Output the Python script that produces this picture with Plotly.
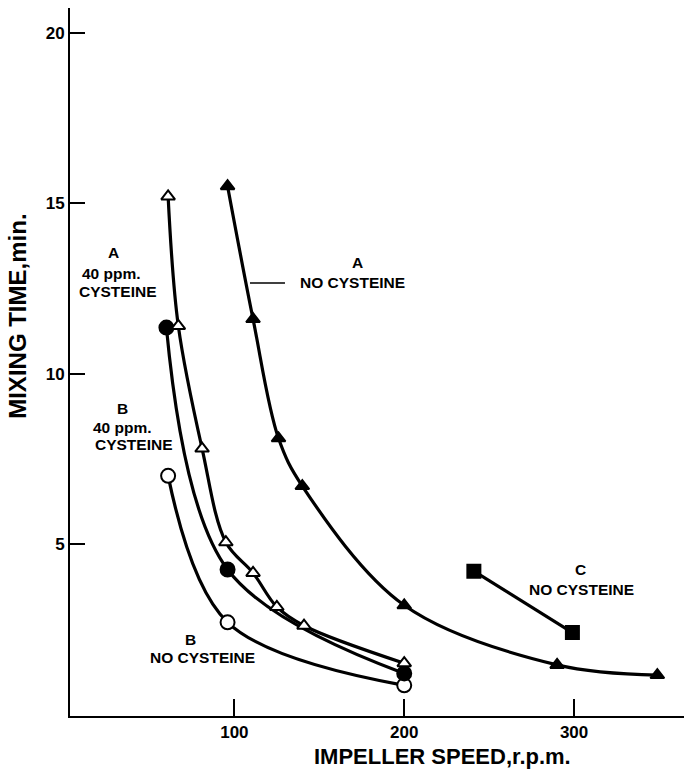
import plotly.graph_objects as go

# Mixing time (min) versus impeller speed (r.p.m.)
a_none_x = [96, 111, 126, 140, 200, 290, 349]
a_none_y = [15.5, 11.6, 8.1, 6.7, 3.2, 1.45, 1.15]

c_none_x = [241, 299]
c_none_y = [4.2, 2.4]

a_cys_x = [61, 67, 81, 95, 111, 125, 141, 200]
a_cys_y = [15.2, 11.4, 7.8, 5.05, 4.15, 3.15, 2.6, 1.5]

b_cys_x = [60, 96, 200]
b_cys_y = [11.35, 4.25, 1.2]

b_none_x = [61, 96, 200]
b_none_y = [7.0, 2.7, 0.85]

x_ticks = [100, 200, 300]
y_ticks = [5, 10, 15, 20]

FONT = "Liberation Sans, Arial, sans-serif"
NARROW = "Liberation Sans Narrow, Liberation Sans, Arial, sans-serif"

fig = go.Figure()


def add_series(xs, ys, symbol, fill, size, shape="spline"):
    fig.add_trace(go.Scatter(
        x=xs, y=ys, mode="lines+markers",
        line=dict(color="black", width=3.2, shape=shape, smoothing=1.0),
        marker=dict(symbol=symbol, size=size, color=fill,
                    line=dict(color="black", width=2)),
        showlegend=False, cliponaxis=False,
    ))


add_series(b_none_x, b_none_y, "circle", "white", 14)
add_series(b_cys_x, b_cys_y, "circle", "black", 14)
add_series(a_cys_x, a_cys_y, "triangle-up", "white", 12)
add_series(a_none_x, a_none_y, "triangle-up", "black", 12)
add_series(c_none_x, c_none_y, "square", "black", 13, shape="linear")

labels = [
    ("A", 28.6, 13.54), ("40 ppm.", 27.4, 12.95), ("CYSTEINE", 31.5, 12.40),
    ("B", 34.4, 8.99), ("40 ppm.", 33.9, 8.43), ("CYSTEINE", 40.9, 7.92),
    ("B", 73.9, 2.19), ("NO CYSTEINE", 81.0, 1.66),
    ("A", 172.2, 13.25), ("NO CYSTEINE", 169.3, 12.66),
    ("C", 303.5, 4.24), ("NO CYSTEINE", 304.1, 3.65),
]
for text, x, y in labels:
    fig.add_annotation(x=x, y=y, xref="x", yref="y", text=text, showarrow=False,
                       xanchor="center", yanchor="middle",
                       font=dict(family=FONT, size=15.5, color="black", weight="bold"))

# leader from the "A NO CYSTEINE" label to its curve
fig.add_shape(type="line", xref="x", yref="y", x0=109.2, x1=129.8, y0=12.66, y1=12.66,
              line=dict(color="black", width=1.5))

fig.add_annotation(x=0.606, y=-0.0565, xref="paper", yref="paper",
                   text="IMPELLER SPEED,r.p.m.", showarrow=False,
                   xanchor="center", yanchor="middle",
                   font=dict(family=FONT, size=22, color="black", weight="bold"))
fig.add_annotation(x=-0.085, y=0.565, xref="paper", yref="paper",
                   text="MIXING TIME,min.", showarrow=False, textangle=-90,
                   xanchor="center", yanchor="middle",
                   font=dict(family=NARROW, size=24, color="black", weight="bold"))

fig.update_xaxes(range=[3.24, 364.7], tickvals=x_ticks, ticks="inside", ticklen=17,
                 tickwidth=2, tickcolor="black", showline=True, linecolor="black",
                 linewidth=2, showgrid=False, zeroline=False,
                 tickfont=dict(family=FONT, size=17, color="black", weight="bold"))
fig.update_yaxes(range=[-0.05, 20.73], tickvals=y_ticks, ticks="inside", ticklen=15,
                 tickwidth=2, tickcolor="black", showline=True, linecolor="black",
                 linewidth=2, showgrid=False, zeroline=False,
                 tickfont=dict(family=FONT, size=17, color="black", weight="bold"))

fig.update_layout(width=684, height=769, margin=dict(l=70, r=0, t=8, b=53),
                  paper_bgcolor="white", plot_bgcolor="white")

fig.write_html("out.html")
